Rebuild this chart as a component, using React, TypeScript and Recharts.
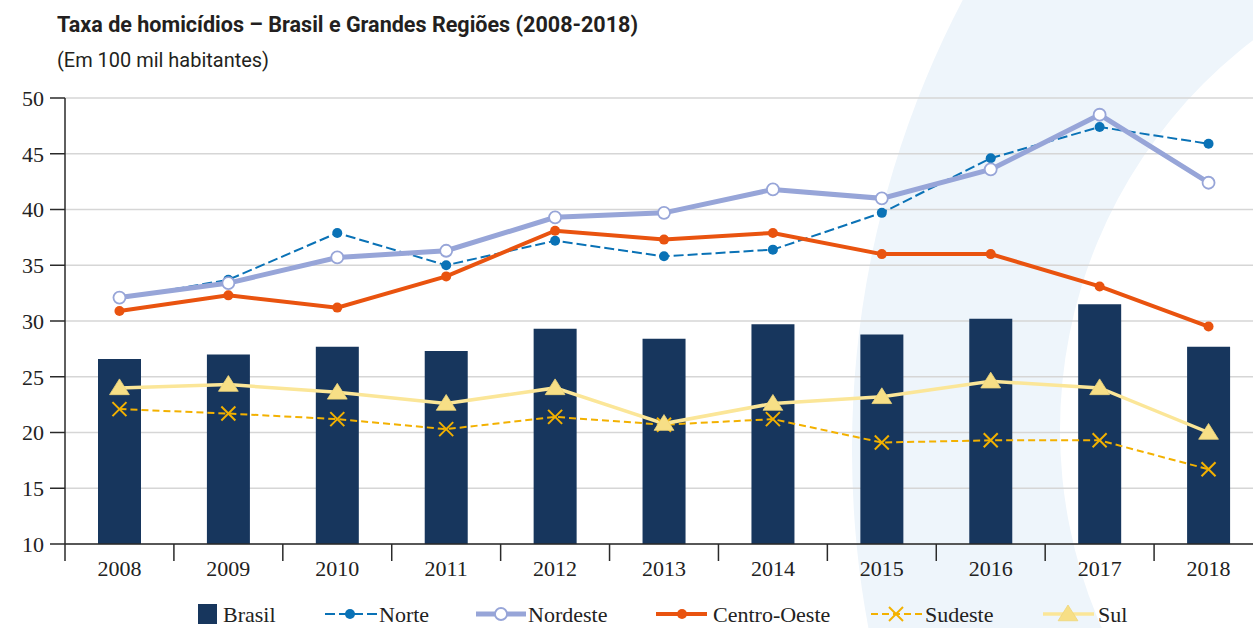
import React from 'react';
import { ComposedChart, Bar, Line, XAxis, YAxis, CartesianGrid } from 'recharts';

const years = ['2008', '2009', '2010', '2011', '2012', '2013', '2014', '2015', '2016', '2017', '2018'];
const brasil = [26.6, 27.0, 27.7, 27.3, 29.3, 28.4, 29.7, 28.8, 30.2, 31.5, 27.7];
const norte = [32.0, 33.7, 37.9, 35.0, 37.2, 35.8, 36.4, 39.7, 44.6, 47.4, 45.9];
const nordeste = [32.1, 33.4, 35.7, 36.3, 39.3, 39.7, 41.8, 41.0, 43.6, 48.5, 42.4];
const centroOeste = [30.9, 32.3, 31.2, 34.0, 38.1, 37.3, 37.9, 36.0, 36.0, 33.1, 29.5];
const sudeste = [22.1, 21.7, 21.2, 20.3, 21.4, 20.7, 21.2, 19.1, 19.3, 19.3, 16.7];
const sul = [24.0, 24.3, 23.6, 22.6, 24.0, 20.8, 22.6, 23.2, 24.6, 24.0, 20.0];
const yTicks = [10, 15, 20, 25, 30, 35, 40, 45, 50];

const title = 'Taxa de homicídios – Brasil e Grandes Regiões (2008-2018)';
const subtitle = '(Em 100 mil habitantes)';

const C = {
  brasil: '#17365d',
  norte: '#0a72b6',
  nordeste: '#97a5d8',
  centro: '#e9530f',
  sudeste: '#f3b100',
  sul: '#fbe698',
  sulMarker: '#f7df86',
  axis: '#2a2a2a',
  grid: '#d6d6d6',
};

const data = years.map((y, i) => ({
  year: y,
  brasil: brasil[i],
  norte: norte[i],
  nordeste: nordeste[i],
  centroOeste: centroOeste[i],
  sudeste: sudeste[i],
  sul: sul[i],
}));

const SERIF = '"Liberation Serif", "Times New Roman", serif';
const SANS = 'Roboto, "Open Sans", sans-serif';

const XTick = (props: any) => {
  const { x, y, payload } = props;
  const off = payload && typeof payload.offset === 'number' ? payload.offset : 0;
  return (
    <g>
      <line x1={x - off} x2={x - off} y1={y} y2={y + 17} stroke={C.axis} strokeWidth={1.5} />
      <text x={x} y={y + 32} textAnchor="middle" fontFamily={SERIF} fontSize={22} fill="#222">
        {payload.value}
      </text>
    </g>
  );
};

const norteDot = (p: any) => <circle key={'n' + p.index} cx={p.cx} cy={p.cy} r={5} fill={C.norte} />;
const nordesteDot = (p: any) => (
  <circle key={'ne' + p.index} cx={p.cx} cy={p.cy} r={6} fill="#fff" stroke={C.nordeste} strokeWidth={1.8} />
);
const centroDot = (p: any) => <circle key={'co' + p.index} cx={p.cx} cy={p.cy} r={5} fill={C.centro} />;
const xShape = (cx: number, cy: number, s: number, key?: string) => (
  <g key={key}>
    <line x1={cx - s} y1={cy - s} x2={cx + s} y2={cy + s} stroke={C.sudeste} strokeWidth={2} />
    <line x1={cx - s} y1={cy + s} x2={cx + s} y2={cy - s} stroke={C.sudeste} strokeWidth={2} />
  </g>
);
const sudesteDot = (p: any) => xShape(p.cx, p.cy, 7, 'se' + p.index);
const triShape = (cx: number, cy: number, s: number, key?: string) => (
  <polygon
    key={key}
    points={`${cx},${cy - s} ${cx + s * 1.1},${cy + s * 0.75} ${cx - s * 1.1},${cy + s * 0.75}`}
    fill={C.sulMarker}
    stroke="#efd57a"
    strokeWidth={0.8}
  />
);
const sulDot = (p: any) => triShape(p.cx, p.cy, 9, 's' + p.index);

const legendY = 614;

export default function App() {
  return (
    <div style={{ position: 'absolute', left: 0, top: 0, width: 1253, height: 628, overflow: 'hidden', background: '#fff' }}>
      <svg width={1253} height={628} style={{ position: 'absolute', left: 0, top: 0 }}>
        <path
          fillRule="evenodd"
          fill="#eef5fb"
          d="M 852 450 A 968 968 0 1 0 2788 450 A 968 968 0 1 0 852 450 Z M 1060 430 A 490 490 0 1 0 2040 430 A 490 490 0 1 0 1060 430 Z"
        />
      </svg>
      <div style={{ position: 'absolute', left: 0, top: 0 }}>
        <ComposedChart width={1300} height={628} data={data} margin={{ top: 98, right: 37, bottom: 54, left: 0 }}>
          <CartesianGrid vertical={false} stroke={C.grid} strokeWidth={1.5} />
          <YAxis
            width={65}
            domain={[10, 50]}
            ticks={yTicks}
            interval={0}
            tickSize={15}
            tickMargin={6}
            axisLine={{ stroke: C.axis, strokeWidth: 1.5 }}
            tickLine={{ stroke: C.axis, strokeWidth: 1.5 }}
            tick={{ fontFamily: SERIF, fontSize: 22, fill: '#222' }}
            allowDataOverflow
          />
          <XAxis
            dataKey="year"
            height={30}
            interval={0}
            tickSize={0}
            tickMargin={0}
            tickLine={false}
            axisLine={{ stroke: C.axis, strokeWidth: 1.5 }}
            tick={<XTick />}
          />
          <Bar dataKey="brasil" fill={C.brasil} barSize={43} isAnimationActive={false} />
          <Line
            dataKey="norte"
            stroke={C.norte}
            strokeWidth={2}
            strokeDasharray="10 4"
            dot={norteDot}
            activeDot={false}
            isAnimationActive={false}
          />
          <Line
            dataKey="nordeste"
            stroke={C.nordeste}
            strokeWidth={5}
            dot={nordesteDot}
            activeDot={false}
            isAnimationActive={false}
          />
          <Line
            dataKey="centroOeste"
            stroke={C.centro}
            strokeWidth={4}
            dot={centroDot}
            activeDot={false}
            isAnimationActive={false}
          />
          <Line
            dataKey="sudeste"
            stroke={C.sudeste}
            strokeWidth={2}
            strokeDasharray="7 4"
            dot={sudesteDot}
            activeDot={false}
            isAnimationActive={false}
          />
          <Line
            dataKey="sul"
            stroke={C.sul}
            strokeWidth={3.5}
            dot={sulDot}
            activeDot={false}
            isAnimationActive={false}
          />
        </ComposedChart>
      </div>
      <svg width={1253} height={628} style={{ position: 'absolute', left: 0, top: 0, pointerEvents: 'none' }}>
        <text x={57} y={32} fontFamily={SANS} fontWeight={700} fontSize={22} fill="#231f20" textLength={581} lengthAdjust="spacingAndGlyphs">
          {title}
        </text>
        <text x={57} y={67} fontFamily={SANS} fontSize={20} fill="#231f20" textLength={212} lengthAdjust="spacingAndGlyphs">
          {subtitle}
        </text>
        <g fontFamily={SERIF} fontSize={22} fill="#222">
          <rect x={198} y={legendY - 10} width={19} height={20} fill={C.brasil} />
          <text x={223} y={legendY + 8}>Brasil</text>

          <line x1={325} x2={377} y1={legendY} y2={legendY} stroke={C.norte} strokeWidth={2} strokeDasharray="10 4" />
          <circle cx={350} cy={legendY} r={5} fill={C.norte} />
          <text x={379} y={legendY + 8}>Norte</text>

          <line x1={476} x2={526} y1={legendY} y2={legendY} stroke={C.nordeste} strokeWidth={5} />
          <circle cx={501} cy={legendY} r={6} fill="#fff" stroke={C.nordeste} strokeWidth={1.8} />
          <text x={528} y={legendY + 8}>Nordeste</text>

          <line x1={656} x2={707} y1={legendY} y2={legendY} stroke={C.centro} strokeWidth={4} />
          <circle cx={682} cy={legendY} r={5} fill={C.centro} />
          <text x={713} y={legendY + 8}>Centro-Oeste</text>

          <line x1={871} x2={922} y1={legendY} y2={legendY} stroke={C.sudeste} strokeWidth={2} strokeDasharray="7 4" />
          {xShape(896, legendY, 7)}
          <text x={925} y={legendY + 8}>Sudeste</text>

          <line x1={1043} x2={1094} y1={legendY} y2={legendY} stroke={C.sul} strokeWidth={3.5} />
          {triShape(1068, legendY, 9)}
          <text x={1098} y={legendY + 8}>Sul</text>
        </g>
      </svg>
    </div>
  );
}
